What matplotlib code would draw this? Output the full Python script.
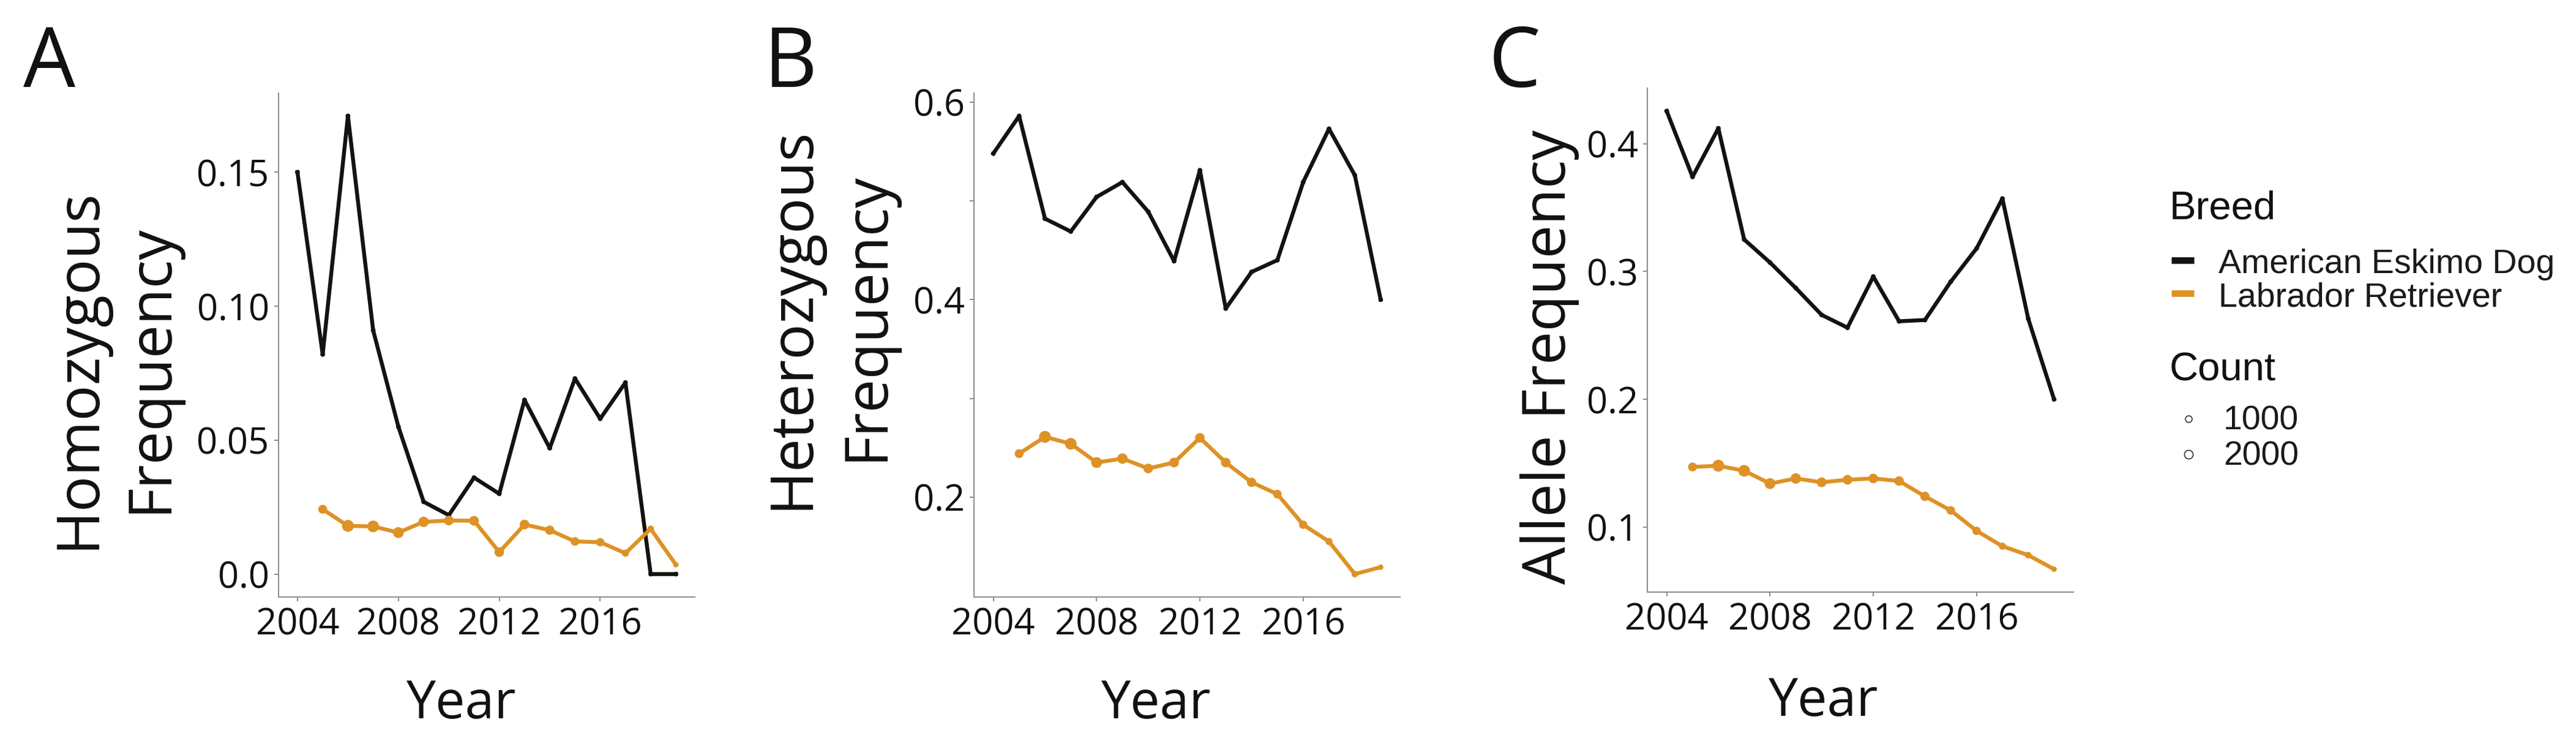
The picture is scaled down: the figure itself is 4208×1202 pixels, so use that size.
import numpy as np
import matplotlib.pyplot as plt
from matplotlib.lines import Line2D

# data
years_esk = list(range(2004, 2020))
years_lab = list(range(2005, 2020))

homo_esk = [0.150, 0.082, 0.171, 0.091, 0.055, 0.027, 0.022, 0.036, 0.030, 0.065,
            0.047, 0.073, 0.058, 0.0715, 0.0, 0.0]
homo_lab = [0.0242, 0.0180, 0.0178, 0.0155, 0.0195, 0.0200, 0.0199, 0.0082, 0.0185,
            0.0164, 0.0122, 0.0119, 0.0078, 0.0169, 0.0035]

het_esk = [0.548, 0.586, 0.482, 0.469, 0.504, 0.519, 0.489, 0.439, 0.531, 0.391,
           0.428, 0.440, 0.519, 0.573, 0.526, 0.400]
het_lab = [0.244, 0.261, 0.254, 0.235, 0.239, 0.229, 0.235, 0.260, 0.235, 0.215,
           0.203, 0.172, 0.155, 0.122, 0.129]

allele_esk = [0.4255, 0.374, 0.412, 0.325, 0.307, 0.287, 0.266, 0.256, 0.296, 0.261,
              0.262, 0.292, 0.318, 0.357, 0.263, 0.200]
allele_lab = [0.147, 0.148, 0.144, 0.134, 0.138, 0.135, 0.137, 0.138, 0.136, 0.124,
              0.113, 0.097, 0.085, 0.078, 0.067]

count_esk = [20, 15, 25, 20, 25, 20, 20, 25, 25, 20, 25, 20, 15, 20, 10, 10]
count_lab = [1200, 2500, 2400, 2000, 1800, 1500, 1500, 1450, 1450, 1350, 1100, 1000,
             600, 450, 150]

breeds = ["American Eskimo Dog", "Labrador Retriever"]
colors = ["#15120f", "#DE9226"]
count_levels = [1000, 2000]

panels = [
    ("A", homo_esk, homo_lab, [0.0, 0.05, 0.10, 0.15], ["0.0", "0.05", "0.10", "0.15"], []),
    ("B", het_esk, het_lab, [0.2, 0.4, 0.6], ["0.2", "0.4", "0.6"], [0.3, 0.5]),
    ("C", allele_esk, allele_lab, [0.1, 0.2, 0.3, 0.4], ["0.1", "0.2", "0.3", "0.4"], []),
]

W, H = 4208, 1202
spine_col = "#8f8a85"
tick_font = "Open Sans"


def size_of(c):
    return 30 + 0.0664 * np.asarray(c)


fig = plt.figure(figsize=(W / 100, H / 100), dpi=100)

# axes boxes in pixels: left, right, top, bottom
boxes = [(455, 1135, 152, 975), (1591, 2287, 152, 975), (2691, 3387, 144, 967)]

for (letter, esk, lab, yt, ytl, ymin), (l, r, t, b) in zip(panels, boxes):
    ax = fig.add_axes([l / W, 1 - b / H, (r - l) / W, (b - t) / H])
    ax.plot(years_esk, esk, color=colors[0], lw=4.6, zorder=2)
    ax.scatter(years_esk, esk, s=size_of(count_esk), color=colors[0], lw=0, zorder=3)
    ax.plot(years_lab, lab, color=colors[1], lw=4.6, zorder=2)
    ax.scatter(years_lab, lab, s=size_of(count_lab), color=colors[1], lw=0, zorder=3)

    allv = esk + lab
    lo, hi = min(allv), max(allv)
    pad = (hi - lo) * 0.05
    ax.set_ylim(lo - pad, hi + pad)
    ax.set_xlim(2003.25, 2019.75)

    ax.set_xticks([2004, 2008, 2012, 2016])
    ax.set_yticks(yt)
    ax.set_yticklabels(ytl)
    ax.set_yticks(ymin, minor=True)
    for s in ["top", "right"]:
        ax.spines[s].set_visible(False)
    for s in ["left", "bottom"]:
        ax.spines[s].set_color(spine_col)
        ax.spines[s].set_linewidth(1.4)
    ax.tick_params(which="both", direction="out", length=5, width=1.4, color=spine_col,
                   labelsize=43, pad=6, labelcolor="#111111")
    for lab_ in ax.get_xticklabels() + ax.get_yticklabels():
        lab_.set_fontfamily(tick_font)

# panel letters
for letter, x in [("A", 38), ("B", 1248), ("C", 2432)]:
    fig.text(x / W, 1 - 142 / H, letter, ha="left", va="baseline", fontsize=97,
             family=tick_font, color="#111111")

# x labels
for x, yb in [(753, 1173), (1888, 1173), (2978, 1169)]:
    fig.text(x / W, 1 - yb / H, "Year", ha="center", va="baseline", fontsize=62,
             family=tick_font, color="#111111")

# y labels
ylabels = [("Homozygous", 153, 602), ("Frequency", 272, 602),
           ("Heterozygous", 1319, 519), ("Frequency", 1441, 517),
           ("Allele Frequency", 2557, 583)]
for txt, x, y in ylabels:
    fig.text(x / W, 1 - y / H, txt, rotation=90, rotation_mode="anchor", ha="center",
             va="baseline", fontsize=70, family=tick_font, color="#111111")

# legend
leg_font = "Liberation Sans"
fig.text(3544 / W, 1 - 358 / H, "Breed", ha="left", va="baseline", fontsize=47,
         family=leg_font, color="#111111")
for i, (name, col) in enumerate(zip(breeds, colors)):
    yk = 425 + i * 54
    fig.add_artist(Line2D([3547 / W, 3584 / W], [1 - yk / H, 1 - yk / H], color=col,
                          lw=7.7, solid_capstyle="butt"))
    fig.text(3624 / W, 1 - (yk + 21) / H, name, ha="left", va="baseline", fontsize=40,
             family=leg_font, color="#1a1a1a")

fig.text(3544 / W, 1 - 622 / H, "Count", ha="left", va="baseline", fontsize=47,
         family=leg_font, color="#111111")
for i, c in enumerate(count_levels):
    yk = 684 + i * 58
    fig.add_artist(Line2D([3575 / W], [1 - yk / H], marker="o", ls="none",
                          markersize=np.sqrt(size_of(c)) * 0.8, markerfacecolor="white",
                          markeredgecolor="#333333", markeredgewidth=1.2))
    fig.text(3632 / W, 1 - (yk + 17) / H, str(c), ha="left", va="baseline", fontsize=40,
             family=leg_font, color="#1a1a1a")

fig.savefig("out.png", dpi=100)
